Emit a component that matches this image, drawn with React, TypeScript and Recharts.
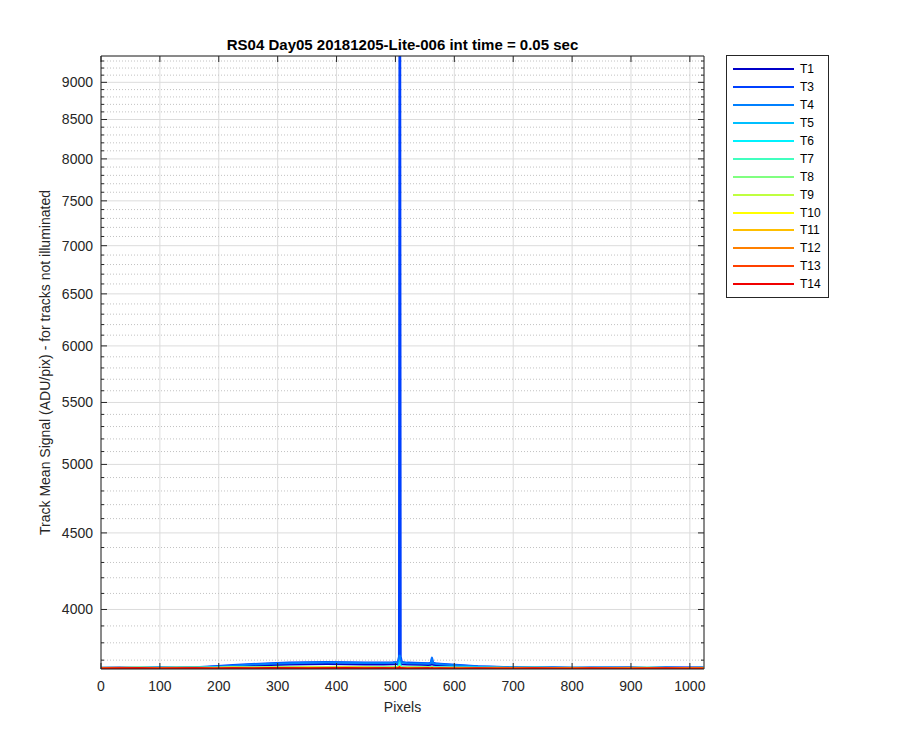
import React from 'react';
import { LineChart, Line, XAxis, YAxis, CartesianGrid, ReferenceLine, Legend } from 'recharts';

const FONT = '"Liberation Sans", Arial, Helvetica, sans-serif';
const AX = '#262626';

// x positions (detector pixel) at which values were read
const pixels = [
  0, 32, 64, 96, 128, 160, 192, 224, 256,
  288, 320, 352, 384, 416, 448, 480, 496, 504,
  506, 507, 508, 509, 511, 520, 544, 556, 560,
  562, 564, 568, 576, 608, 640, 672, 704, 736,
  768, 800, 832, 864, 896, 928, 960, 992, 1023,
];

const seriesNames = ['T1', 'T3', 'T4', 'T5', 'T6', 'T7', 'T8', 'T9', 'T10', 'T11', 'T12', 'T13', 'T14'];
const seriesColors = [
  '#0000c8', '#0040ff', '#0080ff', '#00bfff', '#00f2ff', '#40ffbf', '#80ff80',
  '#bfff40', '#ffff00', '#ffbf00', '#ff8000', '#ff4000', '#f00000',
];

const t1 = [
  3657, 3658, 3656, 3658, 3657, 3659, 3662, 3666, 3670,
  3673, 3675, 3677, 3678, 3677, 3676, 3676, 3677, 3678,
  3680, 3684, 3682, 3679, 3677, 3676, 3674, 3673, 3674,
  3678, 3674, 3672, 3671, 3667, 3663, 3660, 3658, 3657,
  3659, 3656, 3658, 3657, 3659, 3656, 3658, 3657, 3658,
];
const t3 = [
  3655, 3656, 3657, 3656, 3658, 3660, 3665, 3672, 3678,
  3683, 3686, 3688, 3689, 3688, 3687, 3687, 3688, 3690,
  3720, 12000, 11000, 3720, 3690, 3686, 3684, 3683, 3686,
  3715, 3686, 3682, 3680, 3673, 3666, 3662, 3659, 3658,
  3657, 3658, 3656, 3657, 3658, 3656, 3657, 3658, 3657,
];
const t4 = [
  3656, 3655, 3657, 3658, 3656, 3659, 3663, 3669, 3675,
  3680, 3683, 3685, 3686, 3685, 3684, 3684, 3685, 3687,
  3700, 3730, 3715, 3695, 3686, 3683, 3681, 3680, 3682,
  3705, 3682, 3679, 3677, 3670, 3664, 3661, 3658, 3657,
  3658, 3656, 3657, 3658, 3656, 3657, 3658, 3656, 3657,
];
const t5 = [
  3655, 3656, 3655, 3657, 3656, 3657, 3658, 3657, 3659,
  3658, 3660, 3659, 3660, 3659, 3660, 3659, 3660, 3661,
  3680, 3690, 3682, 3666, 3660, 3659, 3660, 3659, 3658,
  3662, 3659, 3658, 3659, 3657, 3658, 3657, 3656, 3657,
  3657, 3655, 3656, 3657, 3655, 3656, 3657, 3655, 3656,
];
const t6 = [
  3656, 3655, 3656, 3655, 3657, 3656, 3657, 3656, 3658,
  3657, 3659, 3658, 3659, 3658, 3659, 3658, 3659, 3660,
  3672, 3680, 3674, 3664, 3659, 3658, 3659, 3658, 3657,
  3660, 3658, 3657, 3658, 3656, 3657, 3656, 3656, 3657,
  3655, 3656, 3657, 3655, 3656, 3657, 3655, 3656, 3655,
];
const t7 = [
  3657, 3656, 3658, 3657, 3656, 3658, 3657, 3658, 3659,
  3660, 3661, 3660, 3661, 3660, 3661, 3660, 3661, 3661,
  3666, 3670, 3665, 3662, 3661, 3660, 3660, 3659, 3660,
  3661, 3659, 3660, 3659, 3658, 3657, 3656, 3657, 3655,
  3656, 3657, 3655, 3656, 3657, 3656, 3655, 3656, 3657,
];
const t8 = [
  3656, 3657, 3655, 3656, 3658, 3656, 3657, 3658, 3657,
  3659, 3658, 3660, 3659, 3660, 3659, 3658, 3659, 3660,
  3663, 3666, 3662, 3660, 3659, 3658, 3659, 3658, 3657,
  3659, 3658, 3657, 3656, 3657, 3656, 3655, 3656, 3657,
  3655, 3656, 3654, 3656, 3655, 3657, 3655, 3656, 3655,
];
const t9 = [
  3655, 3656, 3657, 3655, 3656, 3657, 3656, 3658, 3657,
  3658, 3659, 3658, 3659, 3658, 3659, 3658, 3657, 3659,
  3661, 3663, 3660, 3659, 3658, 3657, 3658, 3657, 3656,
  3658, 3657, 3656, 3657, 3655, 3656, 3657, 3655, 3656,
  3654, 3655, 3656, 3655, 3654, 3656, 3655, 3654, 3655,
];
const t10 = [
  3654, 3655, 3656, 3654, 3655, 3656, 3655, 3657, 3656,
  3657, 3656, 3658, 3657, 3658, 3657, 3656, 3657, 3658,
  3660, 3662, 3659, 3657, 3656, 3657, 3656, 3657, 3655,
  3657, 3656, 3655, 3656, 3654, 3655, 3656, 3654, 3655,
  3656, 3654, 3655, 3653, 3655, 3654, 3656, 3654, 3655,
];
const t11 = [
  3655, 3654, 3655, 3656, 3654, 3655, 3656, 3655, 3657,
  3656, 3657, 3656, 3657, 3656, 3657, 3655, 3656, 3657,
  3659, 3661, 3658, 3656, 3655, 3656, 3655, 3656, 3654,
  3656, 3655, 3654, 3655, 3656, 3654, 3655, 3653, 3654,
  3655, 3653, 3654, 3655, 3653, 3654, 3655, 3653, 3654,
];
const t12 = [
  3654, 3655, 3653, 3655, 3654, 3656, 3654, 3655, 3656,
  3655, 3656, 3655, 3656, 3657, 3655, 3656, 3655, 3656,
  3658, 3660, 3657, 3655, 3656, 3654, 3655, 3654, 3655,
  3656, 3654, 3655, 3653, 3654, 3655, 3653, 3654, 3655,
  3653, 3654, 3652, 3654, 3653, 3655, 3653, 3654, 3653,
];
const t13 = [
  3653, 3654, 3655, 3653, 3654, 3655, 3653, 3655, 3654,
  3656, 3655, 3654, 3655, 3656, 3654, 3655, 3654, 3655,
  3657, 3659, 3656, 3654, 3655, 3653, 3654, 3655, 3653,
  3655, 3654, 3653, 3654, 3652, 3654, 3653, 3652, 3654,
  3653, 3652, 3654, 3653, 3652, 3653, 3654, 3652, 3653,
];
const t14 = [
  3652, 3653, 3654, 3652, 3653, 3654, 3652, 3654, 3653,
  3655, 3654, 3653, 3654, 3655, 3653, 3654, 3653, 3654,
  3656, 3658, 3655, 3653, 3654, 3652, 3653, 3654, 3652,
  3654, 3653, 3652, 3653, 3651, 3653, 3652, 3651, 3653,
  3652, 3651, 3653, 3652, 3651, 3652, 3653, 3651, 3652,
];

const seriesValues = [t1, t3, t4, t5, t6, t7, t8, t9, t10, t11, t12, t13, t14];

const xTicks = [0, 100, 200, 300, 400, 500, 600, 700, 800, 900, 1000];
const yTicks = [4000, 4500, 5000, 5500, 6000, 6500, 7000, 7500, 8000, 8500, 9000];
const yMinorTicks = [
  3700, 3800, 3900, 4100, 4200, 4300, 4400, 4600, 4700, 4800, 4900,
  5100, 5200, 5300, 5400, 5600, 5700, 5800, 5900, 6100, 6200, 6300, 6400,
  6600, 6700, 6800, 6900, 7100, 7200, 7300, 7400, 7600, 7700, 7800, 7900,
  8100, 8200, 8300, 8400, 8600, 8700, 8800, 8900, 9100, 9200, 9300,
];
const xDomain = [0, 1024];
const yDomain = [3650, 9372];

const title = 'RS04 Day05 20181205-Lite-006 int time = 0.05 sec';
const xTitle = 'Pixels';
const yTitle = 'Track Mean Signal (ADU/pix) - for tracks not illuminated';

const rows = pixels.map((p, i) => {
  const r: Record<string, number> = { x: p };
  seriesNames.forEach((n, k) => {
    r[n] = seriesValues[k][i];
  });
  return r;
});

const NoTick = () => <g />;

const TitleLabel = (props: any) => {
  const vb = props.viewBox || { x: 101, y: 56, width: 603, height: 0 };
  return (
    <text x={vb.x + vb.width / 2} y={vb.y - 6} textAnchor="middle" fontFamily={FONT} fontSize={15} fontWeight="bold" fill="#000">
      {title}
    </text>
  );
};

const XLabel = (props: any) => {
  const vb = props.viewBox || { x: 101, y: 669, width: 603, height: 60 };
  return (
    <text x={vb.x + vb.width / 2} y={vb.y + 43} textAnchor="middle" fontFamily={FONT} fontSize={14} fill={AX}>
      {xTitle}
    </text>
  );
};

const YLabel = (props: any) => {
  const vb = props.viewBox || { x: 41, y: 56, width: 60, height: 613 };
  const cx = vb.x + 9;
  const cy = vb.y + vb.height / 2;
  return (
    <text x={cx} y={cy} transform={`rotate(-90 ${cx} ${cy})`} textAnchor="middle" fontFamily={FONT} fontSize={14} fill={AX}>
      {yTitle}
    </text>
  );
};

const LegendBox = () => (
  <div
    style={{
      boxSizing: 'border-box',
      width: 103,
      height: 243,
      border: '1px solid #262626',
      background: '#fff',
      paddingTop: 4.5,
      fontFamily: FONT,
      fontSize: 12,
      color: '#000',
    }}
  >
    {seriesNames.map((n, i) => (
      <div key={n} style={{ height: 17.9, display: 'flex', alignItems: 'center' }}>
        <svg width={61} height={4} style={{ marginLeft: 6, marginRight: 6, display: 'block' }}>
          <line x1={0} y1={2} x2={61} y2={2} stroke={seriesColors[i]} strokeWidth={2} />
        </svg>
        <span style={{ lineHeight: '14px' }}>{n}</span>
      </div>
    ))}
  </div>
);

export default function App() {
  return (
    <div style={{ position: 'absolute', left: 0, top: 0, width: 900, height: 750, background: '#fff', fontFamily: FONT }}>
      <LineChart width={900} height={750} data={rows} margin={{ top: 56, right: 196, bottom: 21, left: 41 }}>
        <CartesianGrid stroke="#dcdcdc" strokeWidth={1} />
        {yMinorTicks.map((v) => (
          <ReferenceLine key={v} y={v} stroke="#c2c2c2" strokeWidth={1} strokeDasharray="1 2" />
        ))}

        <XAxis
          dataKey="x"
          type="number"
          domain={xDomain}
          allowDataOverflow
          ticks={xTicks}
          interval={0}
          height={60}
          tickLine={false}
          tickSize={0}
          tickMargin={12}
          axisLine={{ stroke: AX, strokeWidth: 1 }}
          tick={{ fill: AX, fontSize: 14, fontFamily: FONT }}
          label={XLabel}
        />
        <XAxis
          xAxisId="bottomTicks"
          dataKey="x"
          type="number"
          domain={xDomain}
          allowDataOverflow
          ticks={xTicks}
          interval={0}
          mirror
          height={0.01}
          axisLine={false}
          tickSize={6}
          tickLine={{ stroke: AX }}
          tick={NoTick}
        />
        <XAxis
          xAxisId="topTicks"
          orientation="top"
          dataKey="x"
          type="number"
          domain={xDomain}
          allowDataOverflow
          ticks={xTicks}
          interval={0}
          mirror
          height={0.01}
          axisLine={{ stroke: AX, strokeWidth: 1 }}
          tickSize={6}
          tickLine={{ stroke: AX }}
          tick={NoTick}
          label={TitleLabel}
        />

        <YAxis
          type="number"
          scale="log"
          domain={yDomain}
          allowDataOverflow
          ticks={yTicks}
          interval={0}
          width={60}
          tickLine={false}
          tickSize={0}
          tickMargin={8}
          axisLine={{ stroke: AX, strokeWidth: 1 }}
          tick={{ fill: AX, fontSize: 14, fontFamily: FONT }}
          label={YLabel}
        />
        <YAxis
          yAxisId="leftMajor"
          type="number"
          scale="log"
          domain={yDomain}
          allowDataOverflow
          ticks={yTicks}
          interval={0}
          mirror
          width={0.01}
          axisLine={false}
          tickSize={6}
          tickLine={{ stroke: AX }}
          tick={NoTick}
        />
        <YAxis
          yAxisId="leftMinor"
          type="number"
          scale="log"
          domain={yDomain}
          allowDataOverflow
          ticks={yMinorTicks}
          interval={0}
          mirror
          width={0.01}
          axisLine={false}
          tickSize={3}
          tickLine={{ stroke: AX }}
          tick={NoTick}
        />
        <YAxis
          yAxisId="rightMajor"
          orientation="right"
          type="number"
          scale="log"
          domain={yDomain}
          allowDataOverflow
          ticks={yTicks}
          interval={0}
          mirror
          width={0.01}
          axisLine={{ stroke: AX, strokeWidth: 1 }}
          tickSize={6}
          tickLine={{ stroke: AX }}
          tick={NoTick}
        />
        <YAxis
          yAxisId="rightMinor"
          orientation="right"
          type="number"
          scale="log"
          domain={yDomain}
          allowDataOverflow
          ticks={yMinorTicks}
          interval={0}
          mirror
          width={0.01}
          axisLine={false}
          tickSize={3}
          tickLine={{ stroke: AX }}
          tick={NoTick}
        />

        {seriesNames.map((n, i) => (
          <Line
            key={n}
            type="linear"
            dataKey={n}
            name={n}
            stroke={seriesColors[i]}
            strokeWidth={2}
            dot={false}
            activeDot={false}
            isAnimationActive={false}
          />
        ))}

        <Legend
          layout="vertical"
          align="center"
          verticalAlign="middle"
          wrapperStyle={{ left: 726, top: 55, width: 103 }}
          content={LegendBox}
        />
      </LineChart>
    </div>
  );
}
